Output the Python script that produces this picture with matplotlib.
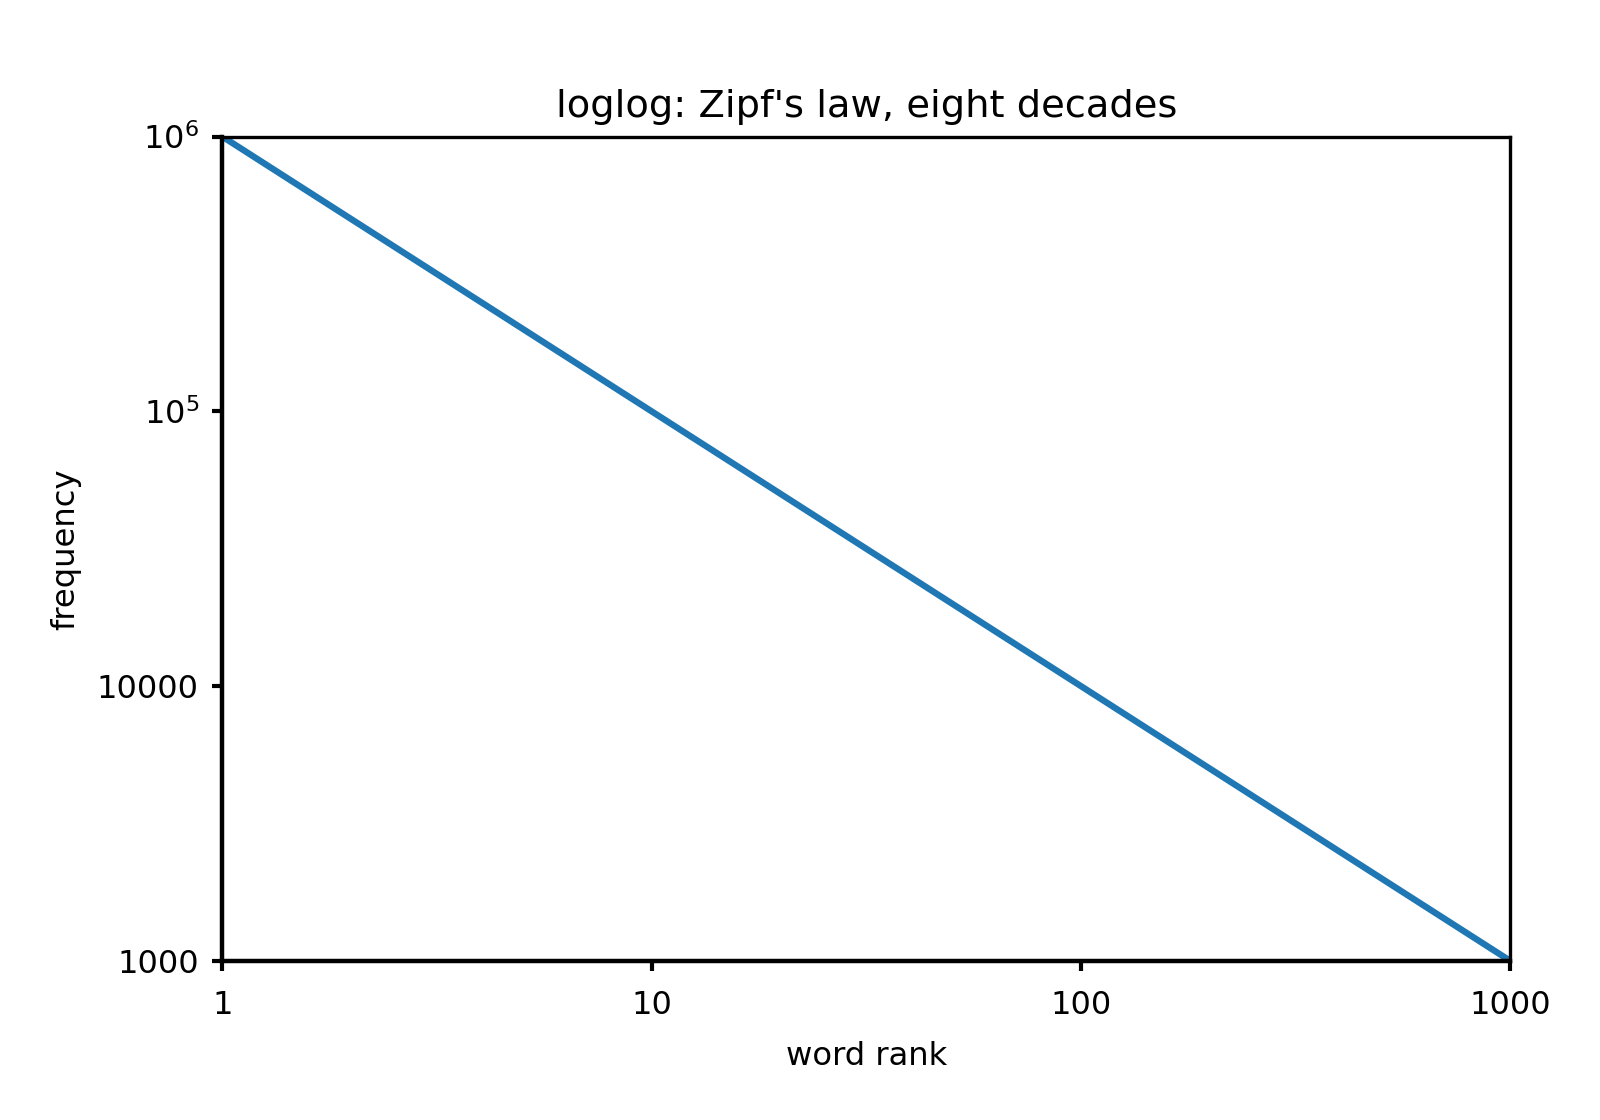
import matplotlib
matplotlib.use("Agg")
import matplotlib.pyplot as plt

# Datos: ley de Zipf
rank = [1, 10, 100, 1000]
freq = [1e6, 1e5, 1e4, 1e3]

x_ticks = [1, 10, 100, 1000]
x_labels = ['1', '10', '100', '1000']
y_ticks = [1e3, 1e4, 1e5, 1e6]
y_labels = ['1000', '10000', r'$10^{5}$', r'$10^{6}$']

fig = plt.figure(figsize=(8, 5.6), dpi=200)
ax = fig.add_axes([0.139, 0.142, 0.805, 0.736])

ax.loglog(rank, freq, color='#1f77b4', linewidth=2.3)

ax.set_xlim(1, 1000)
ax.set_ylim(1e3, 1e6)
ax.set_xticks(x_ticks, x_labels)
ax.set_yticks(y_ticks, y_labels)
ax.minorticks_off()
ax.tick_params(labelsize=11.5, length=3.5, width=1.5)
ax.tick_params(axis='x', pad=7)
ax.tick_params(axis='y', pad=5)

ax.spines['left'].set_linewidth(1.6)
ax.spines['bottom'].set_linewidth(1.6)
ax.spines['top'].set_linewidth(1.2)
ax.spines['right'].set_linewidth(1.2)

ax.set_xlabel('word rank', fontsize=11.6, labelpad=7)
ax.set_ylabel('frequency', fontsize=11.6, labelpad=5.5)
ax.set_title("loglog: Zipf's law, eight decades", fontsize=13.8, pad=7)

fig.savefig('out.png', dpi=200)
